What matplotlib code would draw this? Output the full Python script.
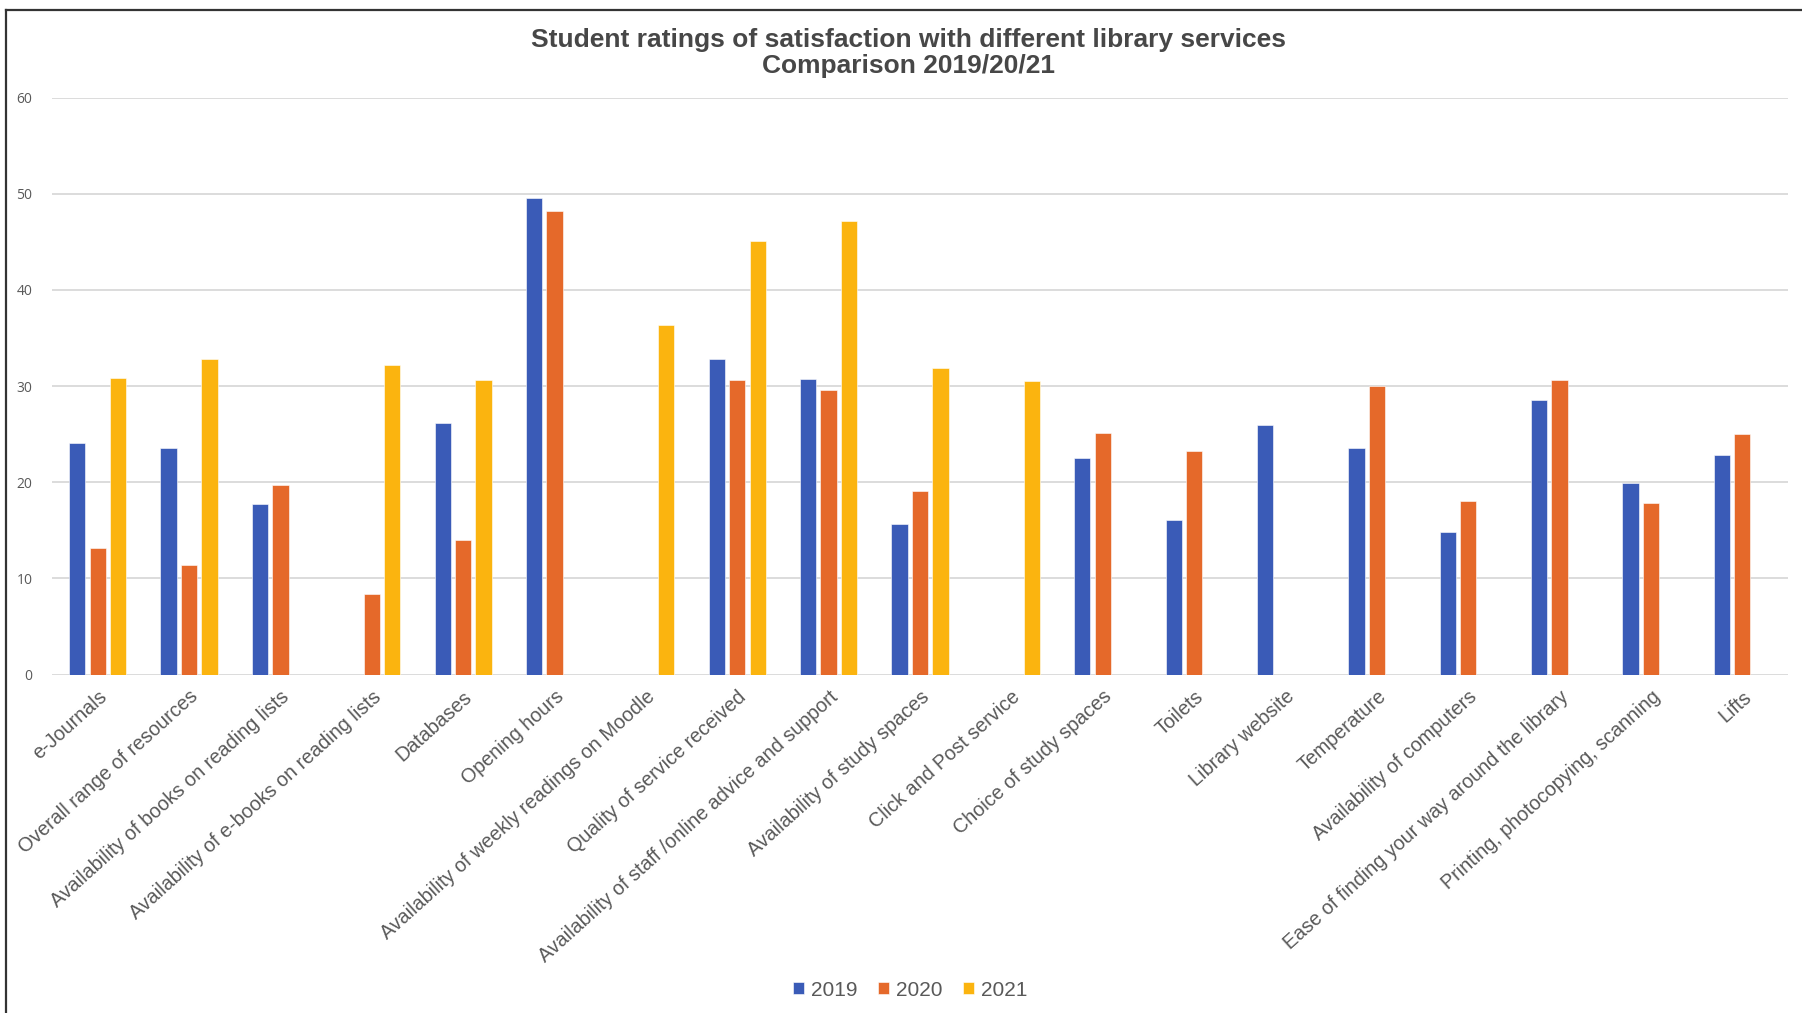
import matplotlib
matplotlib.use("Agg")
import matplotlib.pyplot as plt
from matplotlib.lines import Line2D
import numpy as np

categories = [
    "e-Journals",
    "Overall range of resources",
    "Availability of books on reading lists",
    "Availability of e-books on reading lists",
    "Databases",
    "Opening hours",
    "Availability of weekly readings on Moodle",
    "Quality of service received",
    "Availability of staff /online advice and support",
    "Availability of study spaces",
    "Click and Post service",
    "Choice of study spaces",
    "Toilets",
    "Library website",
    "Temperature",
    "Availability of computers",
    "Ease of finding your way around the library",
    "Printing, photocopying, scanning",
    "Lifts",
]
series_names = ["2019", "2020", "2021"]
nan = np.nan
values_2019 = [24.1, 23.6, 17.7, nan, 26.2, 49.6, nan, 32.8, 30.7, 15.7, nan, 22.5, 16.1, 26.0, 23.6, 14.8, 28.6, 19.9, 22.8]
values_2020 = [13.2, 11.4, 19.7, 8.4, 14.0, 48.2, nan, 30.6, 29.6, 19.1, nan, 25.1, 23.3, nan, 30.0, 18.0, 30.6, 17.8, 25.0]
values_2021 = [30.8, 32.8, nan, 32.2, 30.6, nan, 36.4, 45.1, 47.2, 31.9, 30.5, nan, nan, nan, nan, nan, nan, nan, nan]
y_ticks = [0, 10, 20, 30, 40, 50, 60]
title_text = "Student ratings of satisfaction with different library services\nComparison 2019/20/21"

colors = ["#3A5BB7", "#E5692A", "#FBB40F"]
W, H = 1802, 1013
fig = plt.figure(figsize=(W / 100, H / 100), dpi=100)
fig.patch.set_facecolor("white")

ax = fig.add_axes([52 / W, 1 - 674.5 / H, (1788 - 52) / W, (674.5 - 97.7) / H])
x = np.arange(len(categories))
bw = 0.178
step = 0.224
for i, (vals, name) in enumerate(zip([values_2019, values_2020, values_2021], series_names)):
    ax.bar(x + (i - 1) * step, vals, width=bw, color=colors[i], label=name,
           edgecolor="white", linewidth=0.4, zorder=3)

ax.set_xlim(-0.5, len(categories) - 0.5)
ax.set_ylim(0, 60)
ax.set_yticks(y_ticks)
ax.set_yticklabels([str(t) for t in y_ticks], fontsize=10, color="#595959", family="Open Sans")
ax.tick_params(axis="y", length=0, pad=14)
ax.tick_params(axis="x", length=0, pad=9)
ax.grid(axis="y", color="#D9D9D9", linewidth=1.3, zorder=0)
for s in ax.spines.values():
    s.set_visible(False)
ax.set_xticks(x)
ax.set_xticklabels(categories, rotation=42, ha="right", va="top", rotation_mode="anchor",
                   fontsize=14.2, color="#595959", family="Liberation Sans")

fig.text(908 / W, 1 - 53 / H, title_text, ha="center", va="center", fontsize=19,
         fontweight="bold", color="#474747", family="Liberation Sans", linespacing=1.15)

leg = fig.legend(loc="center", bbox_to_anchor=(910 / W, 1 - 990 / H), ncol=3, frameon=False,
                 handlelength=0.55, handleheight=0.55, handletextpad=0.3, columnspacing=1.0,
                 prop={"family": "Liberation Sans", "size": 15})
for t in leg.get_texts():
    t.set_color("#595959")

fig.add_artist(Line2D([6 / W, 6 / W], [0, 1 - 10 / H], color="#333333", linewidth=1.6))
fig.add_artist(Line2D([6 / W, 1], [1 - 10 / H, 1 - 10 / H], color="#333333", linewidth=1.6))

fig.savefig("out.png", dpi=100, facecolor="white")
